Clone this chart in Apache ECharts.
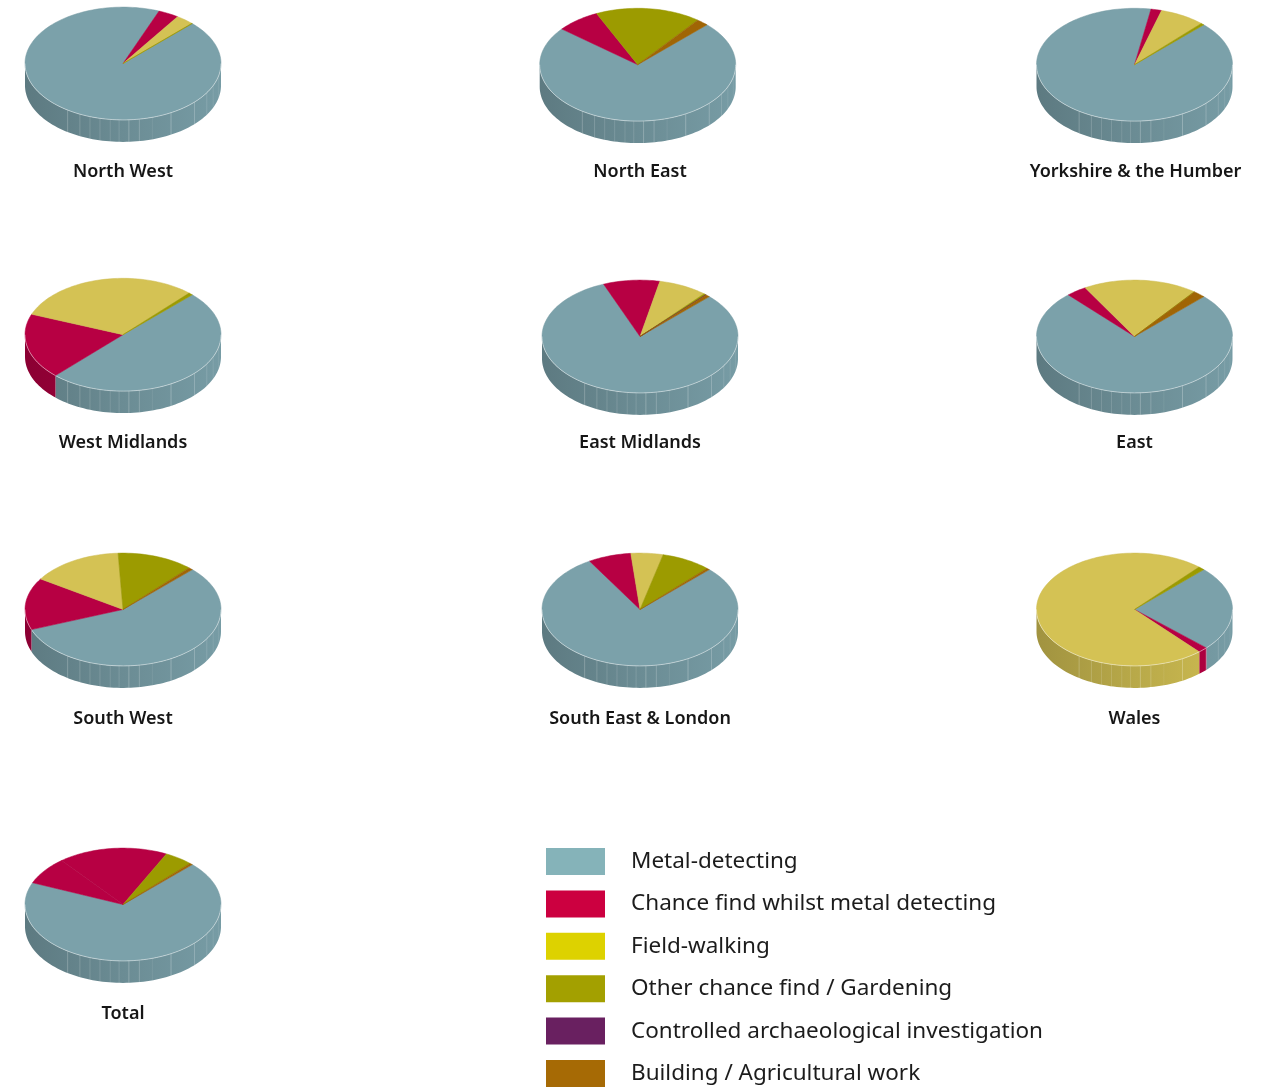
<!DOCTYPE html>
<html>
<head>
<meta charset="utf-8">
<style>html,body{margin:0;padding:0;background:#fff}#chart{width:1265px;height:1087px}</style>
<script src="https://cdn.jsdelivr.net/npm/echarts@6/dist/echarts.min.js"></script>
</head>
<body>
<div id="chart"></div>
<script>
// Share of finds by discovery method, per region (percent).
const regions = ['North West','North East','Yorkshire & the Humber','West Midlands','East Midlands','East','South West','South East & London','Wales','Total'];
const categories = ['Metal-detecting','Chance find whilst metal detecting','Field-walking','Other chance find / Gardening','Controlled archaeological investigation','Building / Agricultural work'];
const metalDetecting = [93.5,73.4,90.2,49.6,81.4,75.7,56.7,78.9,24.4,68.8];
const chanceWhilstDetecting = [3.4,7.2,1.75,18.8,9.3,3.4,14.9,7.1,1.6,7.9];
const fieldWalking = [3.0,0,7.5,30.9,8.1,18.8,15.1,5.3,72.9,18.1];
const otherChanceFind = [0.1,17.4,0.55,0.7,0.35,0.1,12.6,8.2,1.05,4.7];
const controlledInvestigation = [0,0,0,0,0.1,0,0,0,0,0];
const buildingAgricultural = [0,2.0,0,0,0.7,2.0,0.7,0.5,0,0.5];
const seriesValues = [metalDetecting,chanceWhilstDetecting,fieldWalking,otherChanceFind,controlledInvestigation,buildingAgricultural];

// Drawing layout and palette.
const pieCentres = [[123,63.5],[637.7,64.7],[1134.5,64.7],[123,334.7],[640,336.5],[1134.5,336.5],[123,609.5],[640,609.5],[1134.5,609.5],[123,904.5]];
const captionCentres = [[123,171],[640,171],[1135.5,171],[123,442],[640,442],[1134.5,442],[123,718],[640,718],[1134.5,718],[123,1013]];
const RX = 98, RY = 56.4, DEPTH = 22, START_DEG = 45;
const faceColours = ['#7ba1aa','#b70043','#d4c254','#9c9b00','#6a1f5c','#a06505'];
const legendColours = ['#85b3b9','#cc0040','#ddd200','#a3a000','#692060','#a66a05'];
const TOTAL_INDEX = 9, FIELD_WALKING_INDEX = 2, CHANCE_INDEX = 1;
// Horizontal positions of the rim facets, as fractions of the radius.
const facetStops = [-0.565,-0.44,-0.337,-0.235,-0.13,-0.04,0.06,0.167,0.30,0.49,0.73,0.855,0.92,0.975];
const facetLineAlpha = [0.22,0.18,0.14,0.14,0.12,0.14,0.24,0.2,0.08,0.26,0.22,0.14,0.1,0.08];

const rad = d => d * Math.PI / 180;
const rimPoint = (c, deg, drop) => [c[0] + RX * Math.sin(rad(deg)), c[1] - RY * Math.cos(rad(deg)) + drop];
function arcPoints(c, from, to, drop) {
  const n = Math.max(1, Math.ceil(Math.abs(to - from) / 2));
  const pts = [];
  for (let i = 0; i <= n; i++) pts.push(rimPoint(c, from + (to - from) * i / n, drop));
  return pts;
}
function shade(hex, k) {
  const v = parseInt(hex.slice(1), 16);
  const ch = s => Math.round(((v >> s) & 255) * k);
  return 'rgb(' + ch(16) + ',' + ch(8) + ',' + ch(0) + ')';
}
const facetAngles = facetStops.map(f => 180 - Math.asin(f) * 180 / Math.PI);

function renderSlice(params, api) {
  const pie = api.value(0), share = api.value(1), before = api.value(2), total = api.value(3), cat = api.value(4);
  if (!(share > 0)) return null;
  const c = pieCentres[pie];
  const a0 = START_DEG + 360 * before / total;
  const a1 = START_DEG + 360 * (before + share) / total;
  const colour = (pie === TOTAL_INDEX && cat === FIELD_WALKING_INDEX) ? faceColours[CHANCE_INDEX] : faceColours[cat];
  const children = [];

  // Front wall: only the part of the slice on the near half of the ellipse.
  const wallFrom = Math.max(a0, 90), wallTo = Math.min(a1, 270);
  if (wallTo > wallFrom) {
    children.push({
      type: 'polygon',
      shape: { points: arcPoints(c, wallFrom, wallTo, 0).concat(arcPoints(c, wallTo, wallFrom, DEPTH)) },
      style: {
        fill: {
          type: 'linear', global: true,
          x: c[0] - RX, y: 0, x2: c[0] + RX, y2: 0,
          colorStops: [
            { offset: 0, color: shade(colour, 0.76) },
            { offset: 0.5, color: shade(colour, 0.87) },
            { offset: 1, color: shade(colour, 0.97) }
          ]
        }
      }
    });
    facetAngles.forEach((a, i) => {
      if (a > wallFrom && a < wallTo) {
        const p = rimPoint(c, a, 0), q = rimPoint(c, a, DEPTH);
        children.push({
          type: 'line',
          shape: { x1: p[0], y1: p[1], x2: q[0], y2: q[1] },
          style: { stroke: 'rgba(255,255,255,' + facetLineAlpha[i] + ')', lineWidth: 1 }
        });
      }
    });
  }

  // Top face of the slice.
  children.push({
    type: 'polygon',
    shape: { points: [c].concat(arcPoints(c, a0, a1, 0)) },
    style: { fill: colour, stroke: shade(colour, 0.96), lineWidth: 0.5 }
  });

  // Pale highlight along the front rim.
  if (wallTo > wallFrom) {
    children.push({
      type: 'polyline',
      shape: { points: arcPoints(c, wallFrom, wallTo, 0) },
      style: { fill: null, stroke: 'rgba(255,255,255,0.45)', lineWidth: 1 }
    });
  }
  return { type: 'group', children: children };
}

const pieTotals = regions.map((_, p) => seriesValues.reduce((s, vals) => s + vals[p], 0));
const series = categories.map((name, cat) => ({
  type: 'custom',
  name: name,
  coordinateSystem: 'none',
  renderItem: renderSlice,
  itemStyle: { color: legendColours[cat] },
  silent: true,
  animation: false,
  data: regions.map((_, p) => {
    let before = 0;
    for (let k = 0; k < cat; k++) before += seriesValues[k][p];
    return [p, seriesValues[cat][p], before, pieTotals[p], cat];
  })
}));

const FONT = '"Noto Sans", "Open Sans", sans-serif';
const chart = echarts.init(document.getElementById('chart'), null, { renderer: 'canvas' });
chart.setOption({
  backgroundColor: '#ffffff',
  animation: false,
  title: regions.map((name, i) => ({
    text: name,
    left: captionCentres[i][0],
    top: captionCentres[i][1] - 8,
    textAlign: 'center',
    padding: 0,
    textStyle: { fontFamily: FONT, fontSize: 18, fontWeight: 600, color: '#161616' }
  })),
  legend: {
    orient: 'vertical',
    left: 546,
    top: 848,
    height: 300,
    padding: 0,
    itemWidth: 59,
    itemHeight: 27,
    itemGap: 15.4,
    selectedMode: false,
    icon: 'rect',
    data: categories.map((name, i) => ({ name: name, icon: 'rect', itemStyle: { color: legendColours[i] } })),
    textStyle: { fontFamily: FONT, fontSize: 22.5, color: '#1c1c1c', padding: [4, 0, 0, 21] }
  },
  series: series
});
</script>
</body>
</html>
